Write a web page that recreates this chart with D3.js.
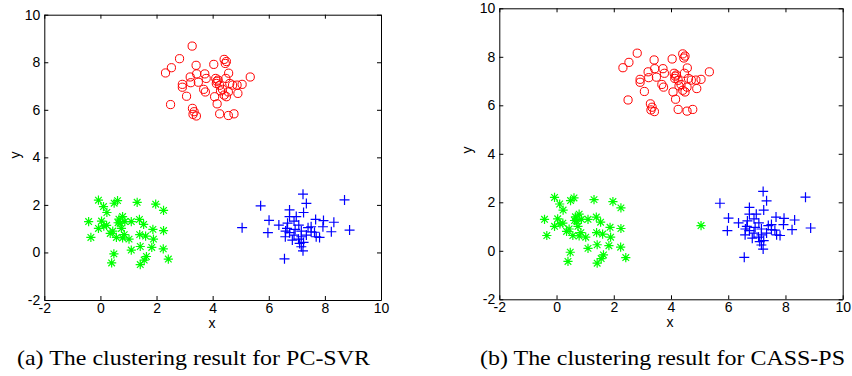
<!DOCTYPE html>
<html lang="en">
<head>
<meta charset="utf-8">
<title>Clustering results</title>
<script src="https://cdn.jsdelivr.net/npm/d3@7"></script>
<style>
  body { margin: 0; background: #fff; }
  svg { display: block; }
  .tick text { font-family: "Liberation Sans", Arial, Helvetica, sans-serif; font-size: 14px; fill: #000; }
  .lab { font-family: "Liberation Sans", Arial, Helvetica, sans-serif; font-size: 14px; }
  .cap { font-family: "Liberation Serif", "Times New Roman", serif; font-size: 22px; }
</style>
</head>
<body>
<script>
// red circles (shared by both panels)
var red = [
  [2.82,8.15],[2.53,7.77],[2.32,7.55],[3.41,7.87],[4.04,7.91],[4.41,8.12],[4.49,8.03],[4.45,7.95],
  [3.20,7.38],[3.43,7.51],[3.72,7.51],[3.77,7.32],[3.49,7.16],[3.22,7.14],[2.92,7.07],[2.92,6.95],
  [3.07,6.57],[2.50,6.22],[3.28,6.06],[3.34,5.92],[3.42,5.74],[3.30,5.81],[3.68,6.86],[3.74,6.75],
  [4.11,7.32],[4.19,7.25],[4.13,7.11],[4.25,7.03],[4.47,7.32],[4.57,7.54],[4.61,7.11],[4.35,6.86],
  [4.07,6.55],[4.41,6.62],[4.49,6.55],[4.56,6.75],[4.16,6.25],[4.25,5.83],[4.56,5.76],[4.76,5.83],
  [4.90,6.69],[4.87,7.04],[5.05,7.07],[5.34,7.38],[4.71,7.04],[4.28,6.80],[4.15,7.20]
];
// red circle that only appears in panel (a)
var redOnlyA = [[3.27,8.68]];

// green stars (shared)
var green = [
  [-0.07,2.20],[0.11,1.93],[0.49,2.07],[0.61,2.18],[1.31,2.11],[1.97,2.03],[2.25,1.77],[0.23,1.68],
  [-0.42,1.30],[0.04,1.32],[0.22,1.14],[-0.07,1.01],[-0.34,0.63],[0.44,0.90],[0.63,1.25],[0.79,1.51],
  [0.70,1.23],[0.75,1.01],[0.87,1.30],[1.10,1.30],[0.57,0.63],[0.79,0.61],[1.02,0.56],[1.10,0.10],
  [1.39,1.39],[1.54,1.18],[1.40,0.75],[1.61,0.69],[1.87,0.97],[1.89,0.56],[1.83,0.21],[2.25,0.92],
  [2.24,0.15],[2.42,-0.28],[1.64,-0.17],[1.56,-0.32],[1.42,-0.51],[0.48,-0.06],[0.40,-0.44],[1.42,0.25],
  [0.35,0.80],[0.12,1.11],[0.66,1.40],[0.85,0.75]
];

// blue pluses (shared)
var blue = [
  [5.71,1.96],[6.01,1.35],[5.97,0.83],[6.56,-0.27],[8.70,2.21],[8.88,0.94],[7.22,2.45],[7.34,2.06],
  [7.24,1.68],[6.74,1.79],[6.74,1.51],[6.67,1.23],[6.36,1.15],[6.60,0.90],[6.59,0.66],[6.84,0.52],
  [6.90,1.32],[7.07,1.15],[6.94,0.97],[7.16,0.90],[7.06,0.56],[7.10,0.38],[7.16,0.24],[7.22,0.07],
  [7.16,0.66],[7.34,0.73],[7.51,1.08],[7.67,1.39],[7.63,0.85],[7.81,0.63],[7.95,1.34],[7.93,1.08],
  [8.32,1.27],[8.23,0.87],[7.69,0.66],[7.40,1.04],[6.74,0.83],[7.24,0.42],[6.90,0.73],[6.65,1.01],
  [7.51,0.87],[6.98,1.51]
];

// point that is blue in (a) and green in (b)
var switched = [[5.05,1.04]];

var ticks = [-2, 0, 2, 4, 6, 8, 10];

var panels = [
  { left: 44.3, right: 381, top: 14.7, bottom: 300,
    red: red.concat(redOnlyA), green: green, blue: blue.concat(switched),
    ylab: [15, 155], xlab: [212, 327.5],
    caption: "(a) The clustering result for PC-SVR", capX: 17, capW: 353 },
  { left: 499.3, right: 842.7, top: 8.3, bottom: 299.3,
    red: red, green: green.concat(switched), blue: blue,
    ylab: [467, 150], xlab: [670, 327],
    caption: "(b) The clustering result for CASS-PS", capX: 480, capW: 365 }
];

var W = 852, H = 376;
var svg = d3.select("body").append("svg").attr("width", W).attr("height", H);

// plain hyphen for negatives, like the original figure
var fmt = function(d) { return String(d); };

function starPath(s) {
  var d = s * 0.72;
  return "M" + (-s) + ",0L" + s + ",0M0," + (-s) + "L0," + s +
         "M" + (-d) + "," + (-d) + "L" + d + "," + d +
         "M" + (-d) + "," + d + "L" + d + "," + (-d);
}
function plusPath(s) {
  return "M" + (-s) + ",0L" + s + ",0M0," + (-s) + "L0," + s;
}

panels.forEach(function(p) {
  var x = d3.scaleLinear().domain([-2, 10]).range([p.left, p.right]);
  var y = d3.scaleLinear().domain([-2, 10]).range([p.bottom, p.top]);
  var g = svg.append("g");

  // markers
  g.selectAll("circle.r").data(p.red).enter().append("circle")
    .attr("cx", function(d) { return x(d[0]); })
    .attr("cy", function(d) { return y(d[1]); })
    .attr("r", 4.1)
    .attr("fill", "none").attr("stroke", "#ff0000").attr("stroke-width", 1);

  g.selectAll("path.g").data(p.green).enter().append("path")
    .attr("transform", function(d) { return "translate(" + x(d[0]) + "," + y(d[1]) + ")"; })
    .attr("d", starPath(4.6))
    .attr("fill", "none").attr("stroke", "#00ff00").attr("stroke-width", 1.2);

  g.selectAll("path.b").data(p.blue).enter().append("path")
    .attr("transform", function(d) { return "translate(" + x(d[0]) + "," + y(d[1]) + ")"; })
    .attr("d", plusPath(5))
    .attr("fill", "none").attr("stroke", "#0000ff").attr("stroke-width", 1.2);

  // axes, ticks pointing inward
  g.append("g").attr("transform", "translate(0," + p.bottom + ")")
    .call(d3.axisBottom(x).tickValues(ticks).tickFormat(fmt).tickSize(-4).tickSizeOuter(0).tickPadding(3));
  g.append("g").attr("transform", "translate(" + p.left + ",0)")
    .call(d3.axisLeft(y).tickValues(ticks).tickFormat(fmt).tickSize(-4).tickSizeOuter(0).tickPadding(4));
  g.append("g").attr("transform", "translate(0," + p.top + ")")
    .call(d3.axisTop(x).tickValues(ticks).tickSize(-4).tickSizeOuter(0).tickFormat(""));
  g.append("g").attr("transform", "translate(" + p.right + ",0)")
    .call(d3.axisRight(y).tickValues(ticks).tickSize(-4).tickSizeOuter(0).tickFormat(""));
  g.selectAll(".domain").attr("stroke", "#000").attr("stroke-width", 1);
  g.selectAll(".tick line").attr("stroke", "#000");

  g.append("text").attr("class", "lab")
    .attr("transform", "translate(" + p.ylab[0] + "," + p.ylab[1] + ") rotate(-90)")
    .attr("text-anchor", "middle").attr("dy", "0.35em").text("y");
  g.append("text").attr("class", "lab")
    .attr("x", p.xlab[0]).attr("y", p.xlab[1])
    .attr("text-anchor", "middle").text("x");

  g.append("text").attr("class", "cap")
    .attr("x", p.capX).attr("y", 365)
    .attr("textLength", p.capW).attr("lengthAdjust", "spacingAndGlyphs")
    .text(p.caption);
});
</script>
</body>
</html>
